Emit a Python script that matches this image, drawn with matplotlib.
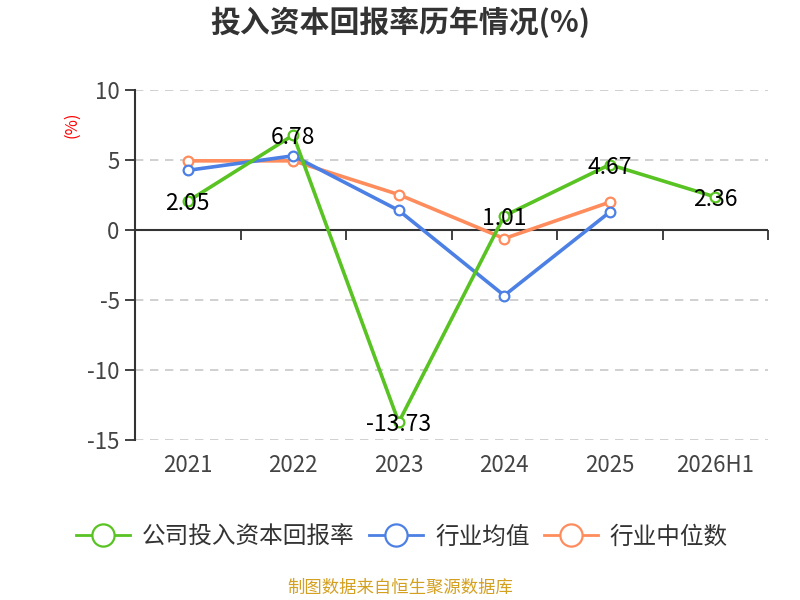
import matplotlib
matplotlib.use("Agg")
import matplotlib.pyplot as plt
from matplotlib.lines import Line2D

plt.rcParams['font.family'] = ['Noto Sans CJK SC', 'DejaVu Sans']

categories = ["2021", "2022", "2023", "2024", "2025", "2026H1"]
company = [2.05, 6.78, -13.73, 1.01, 4.67, 2.36]
industry_avg = [4.26, 5.30, 1.40, -4.68, 1.28]
industry_median = [4.94, 4.94, 2.53, -0.61, 1.99]
yticks = [-15, -10, -5, 0, 5, 10]

green = '#58C322'
blue = '#4C80E4'
orange = '#FF8C5C'

fig = plt.figure(figsize=(8, 6), dpi=100)
ax = fig.add_axes([135/800, 1-440/600, (768-135)/800, (440-90)/600])

x = list(range(len(categories)))
mk = dict(marker='o', markersize=7, markerfacecolor='white', markeredgewidth=1.6, linewidth=2.6)
ax.plot(x[:len(industry_median)], industry_median, color=orange, zorder=3, **mk)
ax.plot(x[:len(industry_avg)], industry_avg, color=blue, zorder=3, **mk)
ax.plot(x, company, color=green, zorder=4, **mk)

for xi, v in zip(x, company):
    ax.text(xi, v, f"{v:.2f}", ha='center', va='center_baseline', fontsize=16.5, color='black', zorder=5)

ax.set_xlim(-0.5, len(categories) - 0.5)
ax.set_ylim(-15, 10)
ax.set_yticks(yticks)
ax.set_yticklabels([str(t) for t in yticks], fontsize=16, color='#444444')
for t in yticks:
    if t != 0:
        ax.axhline(t, color='#c8c8c8', linestyle=(0, (5, 4)), linewidth=1.2, zorder=1)
ax.axhline(0, color='#333333', linewidth=1.5, zorder=2)

ax.set_xticks(x)
ax.set_xticklabels(categories, fontsize=16, color='#444444')
ax.tick_params(axis='x', length=0, pad=10)
ax.tick_params(axis='y', length=7, width=1.3, color='#333333', pad=4)

for s in ['top', 'right', 'bottom']:
    ax.spines[s].set_visible(False)
ax.spines['left'].set_color('#333333')
ax.spines['left'].set_linewidth(1.5)

sec = ax.secondary_xaxis(0, transform=ax.transData)
sec.set_xticks([i - 0.5 for i in range(len(categories) + 1)])
sec.set_xticklabels([])
sec.tick_params(axis='x', length=7, width=1.3, color='#333333', direction='out')
sec.spines['bottom'].set_visible(False)

fig.text(400/800, 1-22/600, "投入资本回报率历年情况(%)", ha='center', va='center',
         fontsize=21.5, fontweight='bold', color='#333333')
fig.text(72/800, 1-125/600, "(%)", ha='center', va='center', rotation=90, fontsize=12, color='red')

handles = [
    Line2D([], [], color=green, marker='o', markersize=16, markerfacecolor='white', markeredgewidth=1.6, linewidth=2),
    Line2D([], [], color=blue, marker='o', markersize=16, markerfacecolor='white', markeredgewidth=1.6, linewidth=2),
    Line2D([], [], color=orange, marker='o', markersize=16, markerfacecolor='white', markeredgewidth=1.6, linewidth=2),
]
labels = ["公司投入资本回报率", "行业均值", "行业中位数"]
fig.legend(handles, labels, loc='center', bbox_to_anchor=(402/800, 1-537/600), ncol=3, frameon=False,
           fontsize=17, handlelength=2.3, handletextpad=0.5, columnspacing=0.6, labelcolor='#333333')

fig.text(400/800, 1-588/600, "制图数据来自恒生聚源数据库", ha='center', va='center', fontsize=12.5, color='#D4A020')

fig.savefig("out.png", dpi=100)
